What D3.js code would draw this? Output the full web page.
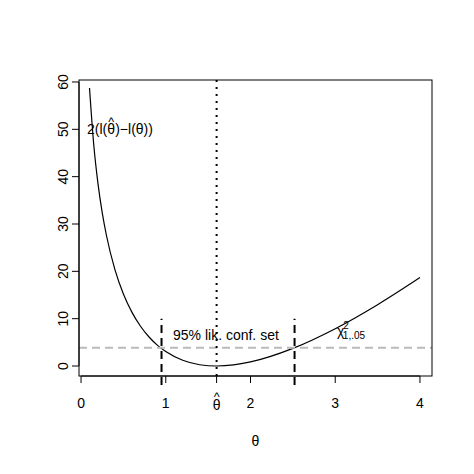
<!DOCTYPE html>
<html><head><meta charset="utf-8">
<script src="https://cdn.jsdelivr.net/npm/d3@7"></script>
<style>body{margin:0;background:#fff}text{font-family:"Liberation Sans",Arial,sans-serif}</style>
</head><body><svg id="c" width="474" height="474"></svg>
<script>
const thetas = [0.1,0.15,0.2,0.25,0.3,0.4,0.5,0.6,0.7,0.8,0.9,1.0,1.2,1.4,1.6,1.8,2.0,2.5,3.0,3.5,4.0];
const devs   = [58.72,46.75,38.54,32.40,27.57,20.36,15.22,11.39,8.45,6.18,4.41,3.04,1.21,0.27,0,0.23,0.86,3.72,7.88,12.95,18.68];
const thetaHat = 1.6, ciLo = 0.95, ciHi = 2.52, chiCrit = 3.84;
const xTicks = [0,1,2,3,4], yTicks = [0,10,20,30,40,50,60];

const svg = d3.select("#c");
const L=79,R=432,T=80,B=376;
const x = d3.scaleLinear().domain([-0.024,4.142]).range([L,R]);
const y = d3.scaleLinear().domain([-2.11,60.42]).range([B,T]);
const g = svg.append("g");

g.append("path").datum(thetas.map((t,i)=>[t,devs[i]]))
 .attr("d",d3.line().x(d=>x(d[0])).y(d=>y(d[1])).curve(d3.curveMonotoneX))
 .attr("fill","none").attr("stroke","#000").attr("stroke-width",1.2);
g.append("line").attr("x1",L).attr("x2",R).attr("y1",y(chiCrit)).attr("y2",y(chiCrit))
 .attr("stroke","#bbb").attr("stroke-width",2).attr("stroke-dasharray","8,5");
g.append("line").attr("x1",x(thetaHat)).attr("x2",x(thetaHat)).attr("y1",T).attr("y2",B)
 .attr("stroke","#000").attr("stroke-width",2).attr("stroke-dasharray","2,5");
[ciLo,ciHi].forEach(v=>g.append("line").attr("x1",x(v)).attr("x2",x(v)).attr("y1",y(-4)).attr("y2",y(10))
 .attr("stroke","#000").attr("stroke-width",2).attr("stroke-dasharray","8,5"));

svg.append("rect").attr("x",L).attr("y",T).attr("width",R-L).attr("height",B-T).attr("fill","none").attr("stroke","#000");

function hatTheta(px,py,fs){
  svg.append("text").attr("x",px).attr("y",py).attr("text-anchor","middle").attr("font-size",fs).text("θ");
  svg.append("text").attr("x",px).attr("y",py-fs*0.62).attr("text-anchor","middle").attr("font-size",fs*0.9).text("^");
}

const xa = svg.append("g").attr("transform",`translate(0,${B})`);
xa.append("line").attr("x1",x(0)).attr("x2",x(4)).attr("stroke","#000");
xTicks.forEach(t=>{xa.append("line").attr("x1",x(t)).attr("x2",x(t)).attr("y2",7).attr("stroke","#000");
 xa.append("text").attr("x",x(t)).attr("y",32).attr("text-anchor","middle").attr("font-size",14).text(t);});
xa.append("line").attr("x1",x(thetaHat)).attr("x2",x(thetaHat)).attr("y2",7).attr("stroke","#000");
hatTheta(x(thetaHat),B+34,14);

const ya = svg.append("g").attr("transform",`translate(${L},0)`);
ya.append("line").attr("y1",y(0)).attr("y2",y(60)).attr("stroke","#000");
yTicks.forEach(t=>{ya.append("line").attr("y1",y(t)).attr("y2",y(t)).attr("x2",-7).attr("stroke","#000");
 ya.append("text").attr("transform",`translate(-11,${y(t)}) rotate(-90)`).attr("text-anchor","middle").attr("font-size",14).text(t);});

svg.append("text").attr("x",(L+R)/2).attr("y",446).attr("text-anchor","middle").attr("font-size",14).text("θ");
// label 2(l(θ̂)−l(θ))
const ly = y(50)+5, lx = x(0.07);
const t1 = svg.append("text").attr("x",lx).attr("y",ly).attr("font-size",14).text("2(l(");
const w1 = t1.node().getComputedTextLength();
const wt = 8;
hatTheta(lx+w1+wt/2,ly,14);
svg.append("text").attr("x",lx+w1+wt).attr("y",ly).attr("font-size",14).text(")−l(θ))");

svg.append("text").attr("x",x(1.71)).attr("y",y(6.5)+5).attr("text-anchor","middle").attr("font-size",14).text("95% lik. conf. set");
const ch = svg.append("text").attr("x",x(3.02)).attr("y",y(7.3)+5).attr("font-size",14);
ch.append("tspan").text("χ");
ch.append("tspan").attr("font-size",10).attr("dy",-7).attr("dx",-1).text("2");
ch.append("tspan").attr("font-size",10).attr("dy",10).attr("dx",-6).text("1,.05");
</script></body></html>
